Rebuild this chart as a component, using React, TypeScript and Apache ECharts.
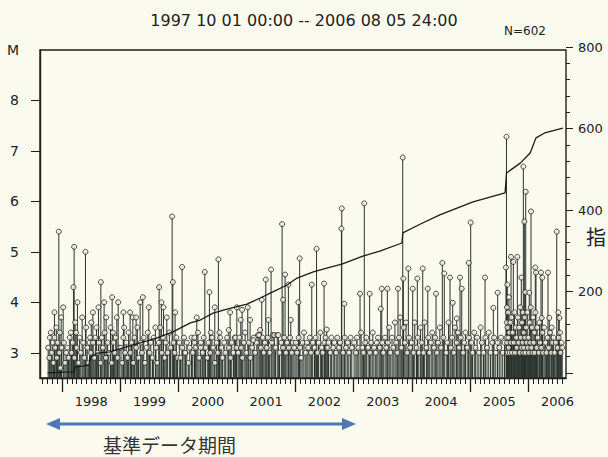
import React, { useEffect, useRef } from "react";
import * as echarts from "echarts";

// ---- data: [decimal year, magnitude] ----
const big1997 = [[1997.806,3.4],[1997.868,3.8],[1997.943,5.4],[1997.983,3.7]];
const big1998 = [[1998.017,3.9],[1998.069,3.0],[1998.149,3.4],[1998.194,4.3],[1998.206,5.1],[1998.223,3.6],[1998.262,4.0],[1998.343,3.7],[1998.400,5.0],[1998.480,3.3],[1998.527,3.8],[1998.623,3.9],[1998.664,4.4],[1998.720,4.0],[1998.755,3.7],[1998.858,4.1],[1998.870,3.4],[1998.938,3.7],[1998.961,4.0]];
const big1999 = [[1999.051,3.8],[1999.063,3.5],[1999.166,3.8],[1999.213,3.7],[1999.269,3.7],[1999.338,4.0],[1999.384,4.1],[1999.487,3.9],[1999.600,3.5],[1999.664,4.3],[1999.703,4.0],[1999.738,3.9],[1999.796,3.7],[1999.887,5.7],[1999.899,4.4],[1999.938,3.8]];
const big2000 = [[2000.058,4.7],[2000.110,3.0],[2000.269,3.3],[2000.310,3.7],[2000.379,3.1],[2000.448,4.6],[2000.527,4.2],[2000.551,3.4],[2000.619,3.9],[2000.681,4.85],[2000.710,3.3],[2000.859,3.45],[2000.882,3.8],[2000.973,3.3],[2000.997,3.9]];
const big2001 = [[2001.065,3.65],[2001.087,3.85],[2001.185,3.9],[2001.225,3.65],[2001.281,3.25],[2001.396,3.45],[2001.425,4.05],[2001.494,4.45],[2001.539,3.65],[2001.585,4.65],[2001.774,5.55],[2001.791,4.05],[2001.825,4.55],[2001.882,4.35],[2001.923,3.65]];
const big2002 = [[2002.053,4.0],[2002.075,4.87],[2002.283,4.35],[2002.365,5.06],[2002.494,4.37],[2002.540,3.46],[2002.792,5.46],[2002.798,5.86],[2002.842,3.97]];
const big2003 = [[2003.111,4.17],[2003.184,5.96],[2003.276,4.17],[2003.467,3.87],[2003.484,4.27],[2003.580,4.27],[2003.763,4.27],[2003.844,6.87],[2003.854,4.47],[2003.940,4.67]];
const big2004 = [[2004.015,4.27],[2004.094,4.47],[2004.187,4.67],[2004.273,4.27],[2004.415,4.17],[2004.523,4.78],[2004.557,4.57],[2004.655,4.49],[2004.701,3.99],[2004.770,3.68],[2004.827,4.49],[2004.856,4.27],[2004.976,4.78]];
const big2005 = [[2005.010,5.58],[2005.256,4.49],[2005.398,3.89],[2005.473,4.19],[2005.615,4.69],[2005.624,7.28],[2005.638,4.35],[2005.702,4.9],[2005.741,4.8],[2005.810,4.9],[2005.878,4.49],[2005.913,6.69],[2005.930,5.6],[2005.954,6.19]];
const big2006 = [[2006.015,4.19],[2006.045,5.8],[2006.118,4.69],[2006.130,4.59],[2006.216,4.59],[2006.228,3.69],[2006.238,4.49],[2006.336,4.59],[2006.358,3.69],[2006.400,3.5],[2006.486,5.4],[2006.513,3.8],[2006.530,3.69],[2006.542,3.4]];

const low1997 = [[1997.76,3.1],[1997.78,2.9],[1997.79,3.3],[1997.82,3.0],[1997.84,3.2],[1997.85,2.8],[1997.87,3.3],[1997.88,3.1],[1997.9,3.5],[1997.91,2.9],[1997.92,3.2],[1997.95,3.0],[1997.96,3.4],[1997.97,2.7],[1997.99,3.1]];
const low1998 = [[1998.03,3.2],[1998.05,2.8],[1998.09,3.1],[1998.11,2.9],[1998.13,3.3],[1998.16,3.0],[1998.18,3.2],[1998.21,2.9],[1998.24,3.4],[1998.25,3.1],[1998.28,2.8],[1998.3,3.3],[1998.32,3.0],[1998.36,3.2],[1998.38,2.9],[1998.41,3.5],[1998.43,3.1],[1998.45,2.8],[1998.47,3.2],[1998.49,3.0],[1998.5,3.6],[1998.53,3.2],[1998.55,2.9],[1998.57,3.3],[1998.59,3.5],[1998.61,3.0],[1998.63,3.2],[1998.66,2.8],[1998.68,3.3],[1998.7,3.1],[1998.73,3.4],[1998.75,2.9],[1998.78,3.2],[1998.8,3.0],[1998.83,3.5],[1998.85,2.8],[1998.88,3.2],[1998.9,3.0],[1998.92,3.3],[1998.95,2.9],[1998.98,3.1]];
const low1999 = [[1999.01,3.1],[1999.03,2.8],[1999.05,3.3],[1999.08,3.0],[1999.1,3.2],[1999.12,2.9],[1999.14,3.4],[1999.17,3.0],[1999.19,3.2],[1999.22,2.8],[1999.24,3.3],[1999.27,3.1],[1999.29,3.5],[1999.31,2.9],[1999.35,3.2],[1999.37,3.0],[1999.4,3.3],[1999.42,2.8],[1999.45,3.1],[1999.47,3.4],[1999.5,3.0],[1999.52,3.2],[1999.55,2.9],[1999.57,3.3],[1999.61,3.1],[1999.63,2.8],[1999.66,3.2],[1999.68,3.5],[1999.71,3.0],[1999.73,3.3],[1999.76,2.9],[1999.78,3.2],[1999.81,3.0],[1999.84,3.4],[1999.86,3.1],[1999.91,3.2],[1999.93,3.0],[1999.96,3.3],[1999.98,2.9]];
const low2000 = [[2000.01,3.2],[2000.03,2.9],[2000.06,3.1],[2000.09,3.3],[2000.12,3.0],[2000.14,3.2],[2000.17,2.8],[2000.19,3.1],[2000.22,3.3],[2000.24,3.0],[2000.27,3.2],[2000.29,3.1],[2000.33,3.4],[2000.35,2.9],[2000.38,3.2],[2000.41,3.0],[2000.43,3.3],[2000.46,3.1],[2000.49,2.9],[2000.51,3.2],[2000.54,3.0],[2000.57,3.3],[2000.59,3.1],[2000.62,2.8],[2000.65,3.2],[2000.67,3.0],[2000.7,3.4],[2000.73,3.1],[2000.75,2.9],[2000.78,3.2],[2000.8,3.0],[2000.83,3.3],[2000.86,3.1],[2000.89,2.9],[2000.91,3.2],[2000.94,3.0],[2000.96,3.3],[2000.99,3.1]];
const low2001 = [[2001.02,3.0],[2001.04,3.3],[2001.07,3.1],[2001.09,2.9],[2001.12,3.2],[2001.14,3.4],[2001.16,3.0],[2001.2,3.2],[2001.23,2.9],[2001.26,3.1],[2001.29,3.3],[2001.31,3.0],[2001.34,3.2],[2001.36,3.35],[2001.38,3.35],[2001.41,3.1],[2001.44,3.3],[2001.46,3.0],[2001.48,3.2],[2001.51,3.1],[2001.53,3.3],[2001.56,3.0],[2001.6,3.2],[2001.62,3.35],[2001.64,3.35],[2001.66,3.1],[2001.69,3.35],[2001.71,3.35],[2001.73,3.0],[2001.76,3.2],[2001.79,3.1],[2001.81,3.3],[2001.84,3.0],[2001.86,3.2],[2001.89,3.1],[2001.91,3.3],[2001.94,3.0],[2001.96,3.2],[2001.98,3.1]];
const low2002 = [[2002.01,3.2],[2002.03,3.0],[2002.06,3.3],[2002.08,3.1],[2002.1,2.9],[2002.13,3.2],[2002.15,3.4],[2002.18,3.0],[2002.2,3.2],[2002.22,3.1],[2002.25,3.3],[2002.27,3.0],[2002.3,3.2],[2002.33,3.1],[2002.35,3.3],[2002.38,3.0],[2002.4,3.2],[2002.43,3.4],[2002.45,3.1],[2002.47,3.0],[2002.5,3.2],[2002.52,3.3],[2002.55,3.1],[2002.57,3.2],[2002.6,3.0],[2002.62,3.3],[2002.65,3.1],[2002.67,3.2],[2002.7,3.0],[2002.72,3.3],[2002.75,3.1],[2002.77,3.2],[2002.82,3.0],[2002.85,3.3],[2002.87,3.1],[2002.9,3.2],[2002.92,3.0],[2002.95,3.3],[2002.97,3.1]];
const low2003 = [[2003.01,3.2],[2003.04,3.0],[2003.06,3.3],[2003.08,3.1],[2003.13,3.4],[2003.15,3.1],[2003.17,3.0],[2003.2,3.2],[2003.22,3.3],[2003.25,3.1],[2003.28,3.0],[2003.3,3.2],[2003.33,3.4],[2003.35,3.1],[2003.38,3.0],[2003.4,3.2],[2003.42,3.3],[2003.45,3.1],[2003.49,3.2],[2003.51,3.0],[2003.54,3.3],[2003.56,3.1],[2003.59,3.2],[2003.61,3.5],[2003.63,3.0],[2003.66,3.3],[2003.68,3.1],[2003.71,3.6],[2003.73,3.2],[2003.75,3.0],[2003.78,3.3],[2003.8,3.7],[2003.82,3.1],[2003.86,3.5],[2003.88,3.2],[2003.9,3.6],[2003.92,3.0],[2003.95,3.3],[2003.97,3.1]];
const low2004 = [[2004.0,3.2],[2004.03,3.0],[2004.05,3.6],[2004.08,3.1],[2004.1,3.3],[2004.12,3.0],[2004.15,3.5],[2004.17,3.2],[2004.2,3.0],[2004.22,3.6],[2004.25,3.1],[2004.28,3.3],[2004.3,3.0],[2004.33,3.2],[2004.35,3.4],[2004.38,3.1],[2004.4,3.3],[2004.43,3.0],[2004.45,3.2],[2004.48,3.5],[2004.5,3.1],[2004.54,3.3],[2004.59,3.0],[2004.61,3.2],[2004.63,3.6],[2004.67,3.1],[2004.69,3.3],[2004.72,3.0],[2004.74,3.5],[2004.77,3.2],[2004.79,3.4],[2004.81,3.1],[2004.84,3.3],[2004.88,3.0],[2004.9,3.2],[2004.92,3.4],[2004.95,3.1],[2004.98,3.3]];
const low2005 = [[2005.02,3.2],[2005.04,3.0],[2005.07,3.4],[2005.09,3.1],[2005.12,3.3],[2005.15,3.0],[2005.18,3.5],[2005.2,3.2],[2005.23,3.0],[2005.26,3.3],[2005.29,3.1],[2005.32,3.4],[2005.35,3.0],[2005.38,3.2],[2005.41,3.3],[2005.44,3.0],[2005.47,3.2],[2005.5,3.1],[2005.53,3.3],[2005.56,3.0],[2005.59,3.2]];
const after2005 = [[2005.625,3.3],[2005.628,3.6],[2005.63,3.0],[2005.632,3.9],[2005.635,3.2],[2005.64,3.5],[2005.645,3.0],[2005.65,3.8],[2005.655,3.3],[2005.66,3.1],[2005.665,4.1],[2005.67,3.4],[2005.68,3.0],[2005.69,3.6],[2005.7,3.2],[2005.71,3.7],[2005.72,3.0],[2005.73,3.4],[2005.75,3.2],[2005.76,3.8],[2005.77,3.0],[2005.78,3.5],[2005.79,3.3],[2005.8,3.1],[2005.82,3.7],[2005.83,3.2],[2005.84,3.5],[2005.85,3.0],[2005.86,3.9],[2005.87,3.3],[2005.88,3.1],[2005.89,3.6],[2005.9,3.2],[2005.905,3.8],[2005.91,3.0],[2005.92,3.4],[2005.925,3.1],[2005.935,3.7],[2005.94,3.3],[2005.945,4.2],[2005.95,3.0],[2005.96,3.5],[2005.97,3.2],[2005.98,3.8],[2005.99,3.1]];
const low2006 = [[2006.0,3.3],[2006.01,3.0],[2006.02,3.6],[2006.03,3.2],[2006.04,3.9],[2006.05,3.1],[2006.06,3.5],[2006.07,3.0],[2006.08,3.7],[2006.09,3.2],[2006.1,3.4],[2006.11,3.0],[2006.12,3.8],[2006.14,3.1],[2006.15,3.5],[2006.16,3.3],[2006.18,3.0],[2006.19,3.6],[2006.2,3.2],[2006.22,3.1],[2006.24,3.4],[2006.25,3.0],[2006.27,3.5],[2006.29,3.2],[2006.31,3.0],[2006.33,3.3],[2006.35,3.1],[2006.37,3.4],[2006.39,3.0],[2006.41,3.2],[2006.43,3.3],[2006.45,3.0],[2006.47,3.2],[2006.5,3.1],[2006.52,3.3],[2006.55,3.0],[2006.57,3.2],[2006.58,3.1]];

// cumulative number of events [decimal year, count]
const cumulative = [[1997.75,0],[1998.017,2],[1998.206,3],[1998.223,15],[1998.36,17],[1998.46,20],[1998.48,37],[1998.60,49],[1998.82,52],[1998.99,59],[1999.34,74],[1999.63,86],[1999.90,101],[2000.20,123],[2000.37,130],[2000.59,147],[2000.83,157],[2001.17,169],[2001.40,184],[2001.57,196],[2001.86,216],[2002.03,233],[2002.31,248],[2002.60,260],[2002.80,267],[2003.16,287],[2003.45,299],[2003.83,319],[2003.845,344],[2004.14,365],[2004.48,388],[2005.05,420],[2005.60,442],[2005.625,491],[2005.86,515],[2006.03,540],[2006.13,577],[2006.28,589],[2006.46,596],[2006.59,601]];

const yearTicks = [1998, 1999, 2000, 2001, 2002, 2003, 2004, 2005, 2006];
const yearLabels = [1998.5, 1999.5, 2000.5, 2001.5, 2002.5, 2003.5, 2004.5, 2005.5, 2006.5];
const mTicks = [3, 4, 5, 6, 7, 8];
const mLabels = [3, 4, 5, 6, 7, 8, 9];

const title = "1997 10 01 00:00 -- 2006 08 05 24:00";
const countLabel = "N=602";
const periodLabel = "基準データ期間";
const rightAxisName = "指";

const X_MIN = 1997.62;
const X_MAX = 2006.645;

export default function App() {
  const ref = useRef<HTMLDivElement>(null);
  useEffect(() => {
    if (!ref.current) return;
    const chart = echarts.init(ref.current, null, { renderer: "svg" });
    const events = [
      ...low1997, ...big1997, ...low1998, ...big1998, ...low1999, ...big1999,
      ...low2000, ...big2000, ...low2001, ...big2001, ...low2002, ...big2002,
      ...low2003, ...big2003, ...low2004, ...big2004, ...low2005, ...big2005,
      ...after2005, ...low2006, ...big2006,
    ];
    const months: number[] = [];
    for (let y = 1997; y <= 2006; y++) {
      for (let m = 0; m < 12; m++) {
        const v = y + m / 12;
        if (v >= X_MIN && v <= X_MAX) months.push(+v.toFixed(4));
      }
    }
    const ink = "#1e1e1e";
    const font = "DejaVu Sans";
    chart.setOption({
      animation: false,
      backgroundColor: "#fbfaee",
      grid: [
        { left: 40, right: 42, top: 50, bottom: 79, show: true, borderColor: ink, borderWidth: 1.4, backgroundColor: "transparent" },
        { left: 40, right: 42, top: 47, bottom: 84, show: false },
      ],
      xAxis: [
        {
          type: "value", gridIndex: 0, min: X_MIN, max: X_MAX, position: "bottom",
          axisLine: { show: true, lineStyle: { color: ink, width: 1.4 } },
          axisTick: { show: true, customValues: months, length: 6, lineStyle: { color: ink, width: 1 } },
          axisLabel: { show: false },
          splitLine: { show: false },
        },
        {
          type: "value", gridIndex: 0, min: X_MIN, max: X_MAX, position: "bottom",
          axisLine: { show: false },
          axisTick: { show: true, customValues: yearTicks, length: 14, lineStyle: { color: ink, width: 1.3 } },
          axisLabel: { show: true, customValues: yearLabels, formatter: (v: number) => String(Math.floor(v)), margin: 17, color: "#222", fontSize: 13, fontFamily: font },
          splitLine: { show: false },
        },
        { type: "value", gridIndex: 1, min: X_MIN, max: X_MAX, show: false },
      ],
      yAxis: [
        {
          type: "value", gridIndex: 0, min: 2.5, max: 9, position: "left",
          axisLine: { show: true, lineStyle: { color: ink, width: 1.4 } },
          axisTick: { show: true, customValues: mTicks, length: 9, lineStyle: { color: ink, width: 1 } },
          axisLabel: { show: true, customValues: mLabels, formatter: (v: number) => (v === 9 ? "M" : String(v)), margin: 21, color: "#222", fontSize: 14, fontFamily: font },
          splitLine: { show: false },
        },
        {
          type: "value", gridIndex: 1, min: 0, max: 800, interval: 200, position: "right",
          axisLine: { show: false },
          axisTick: { show: true, length: 7, lineStyle: { color: ink, width: 1 } },
          minorTick: { show: true, splitNumber: 5, length: 4, lineStyle: { color: ink, width: 1 } },
          axisLabel: { show: true, formatter: (v: number) => (v === 0 ? "" : String(v)), margin: 12, color: "#222", fontSize: 13, fontFamily: font },
          splitLine: { show: false },
        },
      ],
      series: [
        {
          type: "custom", xAxisIndex: 0, yAxisIndex: 0, data: events, z: 2,
          renderItem: (_p: any, api: any) => {
            const top = api.coord([api.value(0), api.value(1)]);
            const base = api.coord([api.value(0), 2.5]);
            return {
              type: "line",
              shape: { x1: top[0], y1: base[1], x2: top[0], y2: top[1] },
              style: { stroke: "#2a332e", lineWidth: 1 },
            };
          },
        },
        {
          type: "scatter", xAxisIndex: 0, yAxisIndex: 0, data: events, z: 3,
          symbol: "circle", symbolSize: 5,
          itemStyle: { color: "#f3f1e2", borderColor: ink, borderWidth: 1 },
        },
        {
          type: "line", xAxisIndex: 2, yAxisIndex: 1, data: cumulative, z: 4,
          showSymbol: false, symbol: "none",
          lineStyle: { color: "#1a1a1a", width: 1.3 },
        },
      ],
      graphic: [
        { type: "text", left: "center", top: 12, style: { text: title, fontSize: 16, fontFamily: font, fill: "#222" } },
        { type: "text", x: 504, y: 25, style: { text: countLabel, fontSize: 12, fontFamily: font, fill: "#222" } },
        { type: "text", x: 586, y: 226, style: { text: rightAxisName, fontSize: 20, fontFamily: "Noto Sans CJK JP", fill: "#222" } },
        { type: "line", shape: { x1: 56, y1: 424, x2: 346, y2: 424 }, style: { stroke: "#4f78b0", lineWidth: 3 } },
        { type: "polygon", shape: { points: [[46, 424], [60, 418], [60, 430]] }, style: { fill: "#4f78b0" } },
        { type: "polygon", shape: { points: [[356, 424], [342, 418], [342, 430]] }, style: { fill: "#4f78b0" } },
        { type: "text", x: 103, y: 435, style: { text: periodLabel, fontSize: 19, fontFamily: "Noto Sans CJK JP", fill: "#333" } },
      ],
    });
    return () => chart.dispose();
  }, []);
  return <div ref={ref} style={{ position: "fixed", left: 0, top: 0, width: 608, height: 457 }} />;
}
